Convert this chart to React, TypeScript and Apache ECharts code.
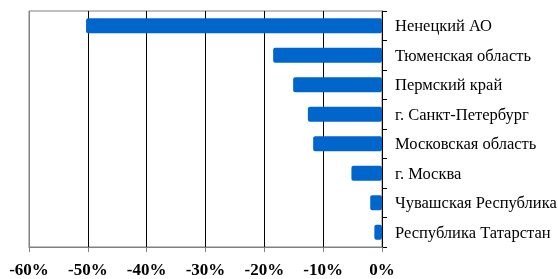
import React, { useEffect, useRef } from "react";
import * as echarts from "echarts";

const categories = [
  "Ненецкий АО",
  "Тюменская область",
  "Пермский край",
  "г. Санкт-Петербург",
  "Московская область",
  "г. Москва",
  "Чувашская Республика",
  "Республика Татарстан",
];
const values = [-50.3, -18.5, -15.1, -12.6, -11.7, -5.2, -2.0, -1.3];
const xMin = -60;
const xMax = 0;
const xStep = 10;

export default function App() {
  const ref = useRef<HTMLDivElement>(null);
  useEffect(() => {
    if (!ref.current) return;
    const chart = echarts.init(ref.current, undefined, { renderer: "svg" });
    chart.setOption({
      animation: false,
      grid: {
        left: 29,
        top: 11,
        right: 176,
        bottom: 32,
        show: true,
        borderColor: "#808080",
        borderWidth: 1,
        outerBounds: { left: -60, top: -60, right: -60, bottom: -60 },
      },
      xAxis: {
        type: "value",
        min: xMin,
        max: xMax,
        interval: xStep,
        axisLine: { show: true, lineStyle: { color: "#808080", width: 1 } },
        axisTick: { show: true, length: 5, lineStyle: { color: "#808080" } },
        splitLine: {
          show: true,
          lineStyle: {
            color: ["#808080", "#000000", "#000000", "#000000", "#000000", "#000000", "#000000"],
            width: 1,
          },
        },
        axisLabel: {
          formatter: "{value}%",
          fontFamily: "Liberation Serif",
          fontWeight: "bold",
          fontSize: 17,
          color: "#000000",
          margin: 14,
        },
      },
      yAxis: {
        type: "category",
        data: categories,
        position: "right",
        inverse: true,
        axisLine: { show: true, lineStyle: { color: "#000000", width: 1 } },
        axisTick: { show: true, length: 5, lineStyle: { color: "#000000" } },
        splitLine: { show: false },
        axisLabel: {
          fontFamily: "Liberation Serif",
          fontSize: 16.5,
          color: "#000000",
          margin: 13,
        },
      },
      series: [
        {
          type: "bar",
          data: values,
          barWidth: 15,
          itemStyle: { color: "#0066CC", borderRadius: 2 },
        },
      ],
    });
    return () => chart.dispose();
  }, []);
  return (
    <div
      ref={ref}
      style={{ position: "fixed", left: 0, top: 0, width: 558, height: 279 }}
    />
  );
}
